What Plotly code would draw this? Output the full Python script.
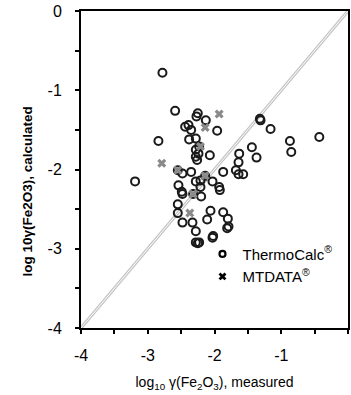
import plotly.graph_objects as go

# ThermoCalc (open circles): measured vs calculated log10 gamma(Fe2O3)
tc_measured = [-2.78, -2.59, -2.84, -3.19, -2.25, -2.27, -2.13, -2.44, -2.39, -2.35,
               -2.38, -2.28, -1.96, -2.28, -2.23, -2.26, -2.28, -2.24, -2.07, -2.35,
               -2.55, -1.87, -2.54, -2.49, -2.48, -2.28, -2.03, -2.21, -1.93, -1.92,
               -2.20, -2.14, -2.55, -2.55, -2.48, -2.33, -2.06, -2.11, -1.87, -1.80,
               -1.79, -1.32, -1.31, -1.16, -1.63, -1.64, -1.44, -1.37, -1.68, -1.64,
               -1.57, -2.32, -2.28, -2.28, -2.23, -2.25, -2.03, -2.02, -1.81, -0.87,
               -0.85, -0.43, -2.21, -2.48]
tc_calculated = [-0.78, -1.26, -1.64, -2.15, -1.29, -1.33, -1.38, -1.46, -1.44, -1.50,
                 -1.62, -1.61, -1.51, -1.75, -1.71, -1.88, -1.84, -1.80, -1.82, -2.03,
                 -2.01, -2.03, -2.20, -2.28, -2.31, -2.15, -2.15, -2.22, -2.22, -2.26,
                 -2.34, -2.08, -2.44, -2.55, -2.67, -2.67, -2.52, -2.63, -2.54, -2.62,
                 -2.72, -1.36, -1.38, -1.49, -1.80, -1.91, -1.72, -1.85, -2.01, -2.06,
                 -2.06, -2.31, -2.78, -2.92, -2.92, -2.93, -2.86, -2.84, -2.74, -1.64,
                 -1.78, -1.59, -2.14, -2.05]

# MTDATA (crosses)
mt_measured = [-1.93, -2.79, -2.14, -2.21, -2.55, -2.14, -2.32, -2.37]
mt_calculated = [-1.30, -1.92, -1.47, -1.71, -2.01, -2.08, -2.31, -2.55]

# parity line
diag = [-4, 0]

tick_vals = [-4, -3, -2, -1, 0]
tick_text = ["-4", "-3", "-2", "-1", "0"]

FONT = "Arial, Liberation Sans, sans-serif"

fig = go.Figure()

fig.add_trace(go.Scatter(x=diag, y=diag, mode="lines",
                         line=dict(color="#c4c4c4", width=3.2),
                         showlegend=False, hoverinfo="skip"))
fig.add_trace(go.Scatter(x=diag, y=diag, mode="lines",
                         line=dict(color="#ffffff", width=1),
                         showlegend=False, hoverinfo="skip"))

fig.add_trace(go.Scatter(x=tc_measured, y=tc_calculated, mode="markers",
                         marker=dict(symbol="circle-open", size=8, color="#1a1a1a",
                                     line=dict(width=2, color="#1a1a1a")),
                         showlegend=False))
fig.add_trace(go.Scatter(x=mt_measured, y=mt_calculated, mode="markers",
                         marker=dict(symbol="x", size=8, color="#8a8a8a",
                                     line=dict(width=0)),
                         showlegend=False))

# legend entries
fig.add_trace(go.Scatter(x=[None], y=[None], mode="markers",
                         name="ThermoCalc<sup>®</sup>",
                         marker=dict(symbol="circle-open", size=6, color="black",
                                     line=dict(width=2.2, color="black"))))
fig.add_trace(go.Scatter(x=[None], y=[None], mode="markers",
                         name="MTDATA<sup>®</sup>",
                         marker=dict(symbol="x", size=7, color="black",
                                     line=dict(width=0))))

axis_common = dict(
    range=[-4, 0], tickvals=tick_vals, ticktext=tick_text,
    showgrid=False, zeroline=False,
    showline=True, linecolor="black", linewidth=2, mirror=True,
    ticks="outside", ticklen=4, tickwidth=1.5, tickcolor="black",
    minor=dict(dtick=0.5, ticks="outside", ticklen=4, tickwidth=1.5, tickcolor="black"),
    tickfont=dict(size=16, family=FONT, color="black"),
)

fig.update_layout(
    width=351, height=395,
    margin=dict(l=81, r=1, t=11, b=67),
    paper_bgcolor="white", plot_bgcolor="white",
    font=dict(family=FONT, color="black"),
    xaxis=dict(**axis_common, ticklabelstandoff=8,
               title=dict(text="log<sub>10</sub> γ(Fe<sub>2</sub>O<sub>3</sub>), measured",
                          font=dict(size=14, family=FONT), standoff=14)),
    yaxis=dict(**axis_common, ticklabelstandoff=10),
    legend=dict(x=0.455, y=0.285, xanchor="left", yanchor="top",
                bgcolor="rgba(0,0,0,0)", font=dict(size=15, family=FONT),
                itemwidth=30, tracegroupgap=0),
    annotations=[dict(text="<b>log 10γ(Fe2O3), calculated</b>",
                      xref="paper", yref="paper", x=-0.235, y=0.43,
                      textangle=-90, showarrow=False,
                      font=dict(size=13.5, family=FONT, color="black"))],
)

fig.write_html("out.html")
